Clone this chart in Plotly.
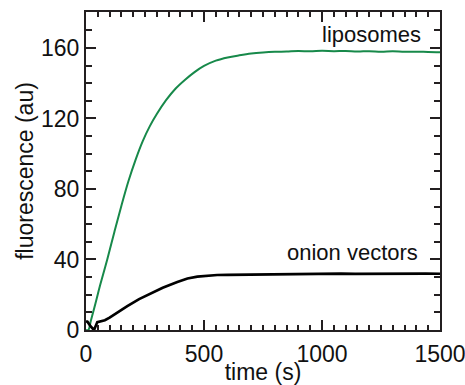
import plotly.graph_objects as go

# liposomes (green)
lip_t = [0, 10, 20, 40, 60, 90, 120, 150, 180, 210, 240, 270, 300, 340, 380, 420, 460, 500,
         550, 600, 650, 700, 750, 800, 850, 900, 950, 1000, 1050, 1100, 1150, 1200, 1250,
         1300, 1350, 1400, 1450, 1500]
lip_y = [0, 0, 5, 15, 25.5, 40, 55.5, 70.5, 84.5, 96.5, 107, 115.5, 122.5, 130.5, 137, 142, 146.3, 149.8,
         152.8, 154.6, 155.8, 156.8, 157.4, 157.8, 158.0, 158.3, 158.1, 158.4, 158.2, 158.3, 158.0,
         158.2, 157.9, 158.1, 157.8, 157.9, 157.7, 157.6]

# onion vectors (black)
oni_t = [0, 6, 20, 34, 48, 60, 80, 100, 133, 175, 225, 274, 325, 387, 430, 472, 510, 556, 600,
         650, 700, 760, 839, 900, 960, 1020, 1080, 1140, 1200, 1260, 1320, 1380, 1440, 1500]
oni_y = [5, 4.7, 2, 0, 4.5, 4.8, 5.5, 7, 10, 13.5, 17.5, 20.5, 24, 27.2, 29.2, 30.3, 30.8, 31.2, 31.3,
         31.4, 31.5, 31.6, 31.8, 31.7, 31.9, 31.8, 32.0, 31.8, 31.9, 32.0, 31.8, 31.9, 32.0, 31.9]

x_ticks = [0, 500, 1000, 1500]
y_ticks = [0, 40, 80, 120, 160]

FONT = "Liberation Sans, Arial, sans-serif"
AX = "#231f20"
FS = 23

fig = go.Figure()
fig.add_trace(go.Scatter(x=lip_t, y=lip_y, mode="lines", line=dict(color="#17894a", width=2,
                         shape="spline", smoothing=1.0), showlegend=False))
fig.add_trace(go.Scatter(x=oni_t, y=oni_y, mode="lines", line=dict(color="#000000", width=2.7),
                         showlegend=False))

fig.add_annotation(x=1424, y=167.9, text="liposomes", showarrow=False, xanchor="right",
                   yanchor="middle", font=dict(family=FONT, size=FS-1, color="#111"), borderpad=0)
fig.add_annotation(x=1411, y=43.7, text="onion vectors", showarrow=False, xanchor="right",
                   yanchor="middle", font=dict(family=FONT, size=FS-1, color="#111"), borderpad=0)

common = dict(showgrid=False, zeroline=False, showline=True, linecolor=AX, linewidth=2,
              mirror="allticks", ticks="inside", tickcolor=AX, tickwidth=1.5, ticklen=10,
              automargin=False, ticklabeloverflow="allow",
              tickfont=dict(family=FONT, size=FS, color="#111"))

fig.update_xaxes(range=[0, 1500], tickvals=x_ticks, ticktext=[str(v) for v in x_ticks],
                 minor=dict(dtick=50, tick0=0, ticks="inside", ticklen=5, tickcolor=AX, tickwidth=1.5),
                 title=dict(text="time (s)", font=dict(family=FONT, size=FS, color="#111"), standoff=0),
                 ticklabelstandoff=2, **common)
fig.update_yaxes(range=[0, 180.4], tickvals=y_ticks, ticktext=[str(v) for v in y_ticks],
                 minor=dict(dtick=10, tick0=0, ticks="inside", ticklen=6, tickcolor=AX, tickwidth=1.5),
                 title=dict(text="fluorescence (au)", font=dict(family=FONT, size=FS, color="#111"), standoff=1),
                 **common)

fig.update_layout(width=465, height=385, margin=dict(l=86, r=25, t=12, b=55),
                  paper_bgcolor="white", plot_bgcolor="white")

fig.write_html("out.html")
